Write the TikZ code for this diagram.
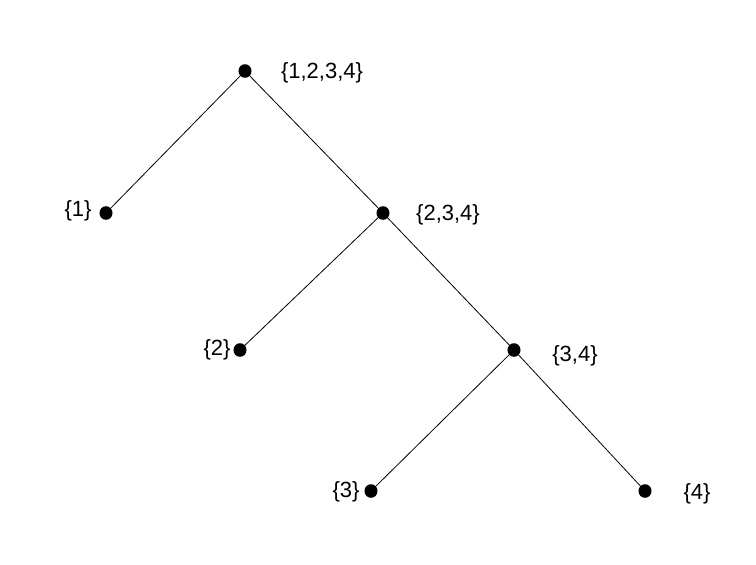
\documentclass[tikz,border=0pt]{standalone}
\usepackage{fontspec}
\setmainfont{Liberation Sans}
\usetikzlibrary{shapes.geometric}
\begin{document}
\begin{tikzpicture}[x=0.75pt,y=-0.75pt,
  dot/.style={ellipse,fill=black,inner sep=0pt,minimum width=9.8pt,minimum height=10.2pt},
  lbl/.style={inner sep=0pt,font=\fontsize{16.5}{19}\selectfont},
  edge/.style={line width=0.6pt}]
\useasboundingbox (0,0) rectangle (756,564);
\node[dot] (r) at (245,71) {};
\node[dot] (a) at (106,213) {};
\node[dot] (b) at (383,213) {};
\node[dot] (c) at (240,350) {};
\node[dot] (d) at (514,350) {};
\node[dot] (e) at (371,491) {};
\node[dot] (f) at (645,491) {};
\draw[edge] (r.center) -- (a.center);
\draw[edge] (r.center) -- (b.center);
\draw[edge] (b.center) -- (c.center);
\draw[edge] (b.center) -- (d.center);
\draw[edge] (d.center) -- (e.center);
\draw[edge] (d.center) -- (f.center);
\node[lbl] (lr) at (322,73) {\{1,2,3,4\}};
\node[lbl] (la) at (78,211) {\{1\}};
\node[lbl] (lb) at (448,215) {\{2,3,4\}};
\node[lbl] (lc) at (217,350) {\{2\}};
\node[lbl] (ld) at (575,356) {\{3,4\}};
\node[lbl] (le) at (346,492) {\{3\}};
\node[lbl] (lf) at (697,494) {\{4\}};
\end{tikzpicture}
\end{document}
